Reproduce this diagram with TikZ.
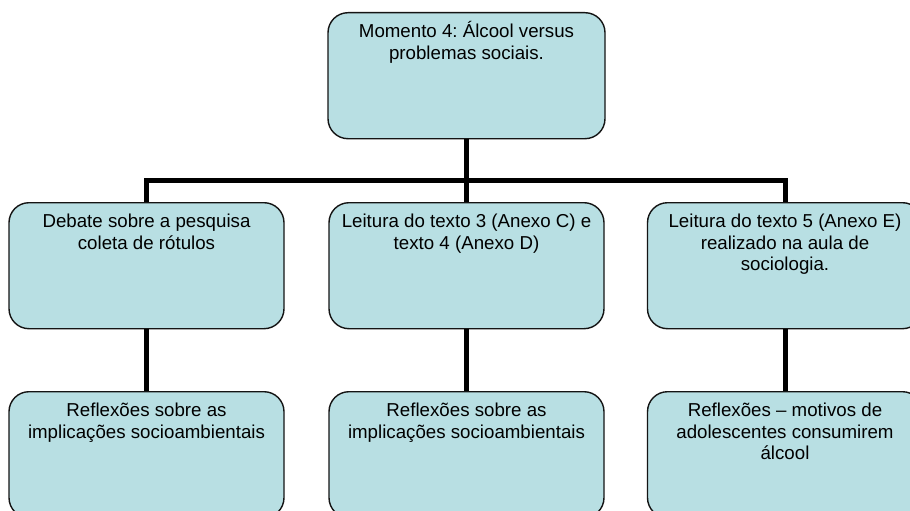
\documentclass[tikz,border=0pt]{standalone}
\usepackage{fontspec}
\setmainfont{Liberation Sans}
\frenchspacing
\definecolor{boxfill}{RGB}{184,223,227}
\definecolor{boxline}{RGB}{20,20,20}
\newcommand{\boxtext}[2][275]{%
  \parbox[c][126pt][t]{#1pt}{\centering\fontsize{18.7}{21.6}\selectfont\rule{0pt}{25pt}#2}}
\tikzset{
  stagebox/.style={draw=boxline, line width=1.4pt, fill=boxfill,
    rounded corners=20pt, inner sep=0pt, minimum width=275pt,
    minimum height=126pt, anchor=north},
  conn/.style={line width=5pt, line join=miter, black}
}
\begin{document}
\begin{tikzpicture}[x=1pt, y=-1pt]
\useasboundingbox (0,0) rectangle (910,511);
\clip (0,0) rectangle (910,511);
\fill[white] (0,0) rectangle (910,511);

% main topic
\node[stagebox, minimum width=277pt] (top) at (466.5,12)
  {\boxtext{Momento 4: Álcool versus\\problemas sociais.}};

% activities
\node[stagebox] (m1) at (146.5,202) {\boxtext{Debate sobre a pesquisa\\coleta de rótulos}};
\node[stagebox] (m2) at (466.5,202) {\boxtext{Leitura do texto 3 (Anexo C) e\\texto 4 (Anexo D)}};
\node[stagebox] (m3) at (785,202) {\boxtext{Leitura do texto 5 (Anexo E)\\realizado na aula de\\sociologia.}};

% reflections
\node[stagebox] (b1) at (146.5,391) {\boxtext{Reflexões sobre as\\implicações socioambientais}};
\node[stagebox] (b2) at (466.5,391) {\boxtext{Reflexões sobre as\\implicações socioambientais}};
\node[stagebox] (b3) at (785,391) {\boxtext{Reflexões – motivos de\\adolescentes consumirem\\álcool}};

% connectors
\coordinate (bar) at (466.5,180.5);
\draw[conn] (top.south) -- (m2.north);
\draw[conn] (m1.north) |- (bar) -| (m3.north);
\draw[conn] (m1.south) -- (b1.north);
\draw[conn] (m2.south) -- (b2.north);
\draw[conn] (m3.south) -- (b3.north);
\end{tikzpicture}
\end{document}
